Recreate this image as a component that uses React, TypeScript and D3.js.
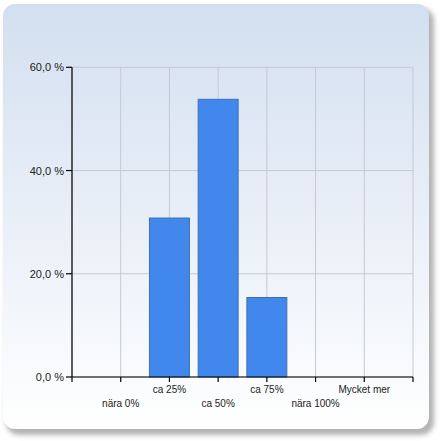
import React from "react";
import * as d3 from "d3";

const categories = ["nära 0%", "ca 25%", "ca 50%", "ca 75%", "nära 100%", "Mycket mer"];
const values = [0, 30.8, 53.8, 15.4, 0, 0];
const yTicks = [0, 20, 40, 60];

export default function App() {
  const W = 441, H = 441;
  const left = 72, right = 413, top = 67.3, bottom = 377;
  const x = d3.scaleLinear().domain([0, categories.length + 1]).range([left, right]);
  const y = d3.scaleLinear().domain([0, 60]).range([bottom, top]);
  const step = x(1) - x(0);
  const barW = step * 0.82;
  const gridX = d3.range(0, categories.length + 2);
  const fmt = (v: number) => d3.format(".1f")(v).replace(".", ",") + " %";
  const font = "'Liberation Sans', Arial, sans-serif";
  return (
    <svg width={W} height={H} style={{ position: "absolute", left: 0, top: 0, display: "block" }}>
      <defs>
        <linearGradient id="bg" x1="0" y1="0" x2="0" y2="1">
          <stop offset="0" stopColor="#d3dff0" />
          <stop offset="1" stopColor="#ffffff" />
        </linearGradient>
        <filter id="sh" x="-10%" y="-10%" width="120%" height="120%">
          <feGaussianBlur stdDeviation="2.5" />
        </filter>
      </defs>
      <rect x={0} y={0} width={W} height={H} fill="#ffffff" />
      <rect x={6} y={8} width={428} height={427} rx={13} fill="#9a9a9a" opacity={0.75} filter="url(#sh)" />
      <rect x={3} y={4} width={426} height={425} rx={12} fill="url(#bg)" />
      {yTicks.map((t) => (
        <line key={"gy" + t} x1={left} x2={right} y1={y(t)} y2={y(t)} stroke="#c5c9d2" strokeWidth={1} />
      ))}
      {gridX.map((i) => (
        <line key={"gx" + i} x1={x(i)} x2={x(i)} y1={top} y2={bottom} stroke="#c5c9d2" strokeWidth={1} />
      ))}
      {values.map((v, i) =>
        v > 0 ? (
          <rect
            key={"b" + i}
            x={x(i + 1) - barW / 2}
            y={y(v)}
            width={barW}
            height={bottom - y(v)}
            fill="#4287ec"
            stroke="#3c6fb8"
            strokeWidth={1}
          />
        ) : null
      )}
      <line x1={left} x2={left} y1={top} y2={bottom} stroke="#000" strokeWidth={1.2} />
      <line x1={left} x2={right} y1={bottom} y2={bottom} stroke="#000" strokeWidth={1.2} />
      {yTicks.map((t) => (
        <g key={"ty" + t}>
          <line x1={left - 6} x2={left} y1={y(t)} y2={y(t)} stroke="#000" strokeWidth={1.2} />
          <text x={left - 8} y={y(t) + 4} textAnchor="end" fontSize={11} fontFamily={font} fill="#222">
            {fmt(t)}
          </text>
        </g>
      ))}
      {gridX.map((i) => (
        <line key={"tx" + i} x1={x(i)} x2={x(i)} y1={bottom} y2={bottom + 5} stroke="#000" strokeWidth={1.2} />
      ))}
      {categories.map((c, i) => (
        <text
          key={"c" + i}
          x={x(i + 1)}
          y={i % 2 === 1 ? 393 : 407}
          textAnchor="middle"
          fontSize={10}
          fontFamily={font}
          fill="#222"
        >
          {c}
        </text>
      ))}
    </svg>
  );
}
